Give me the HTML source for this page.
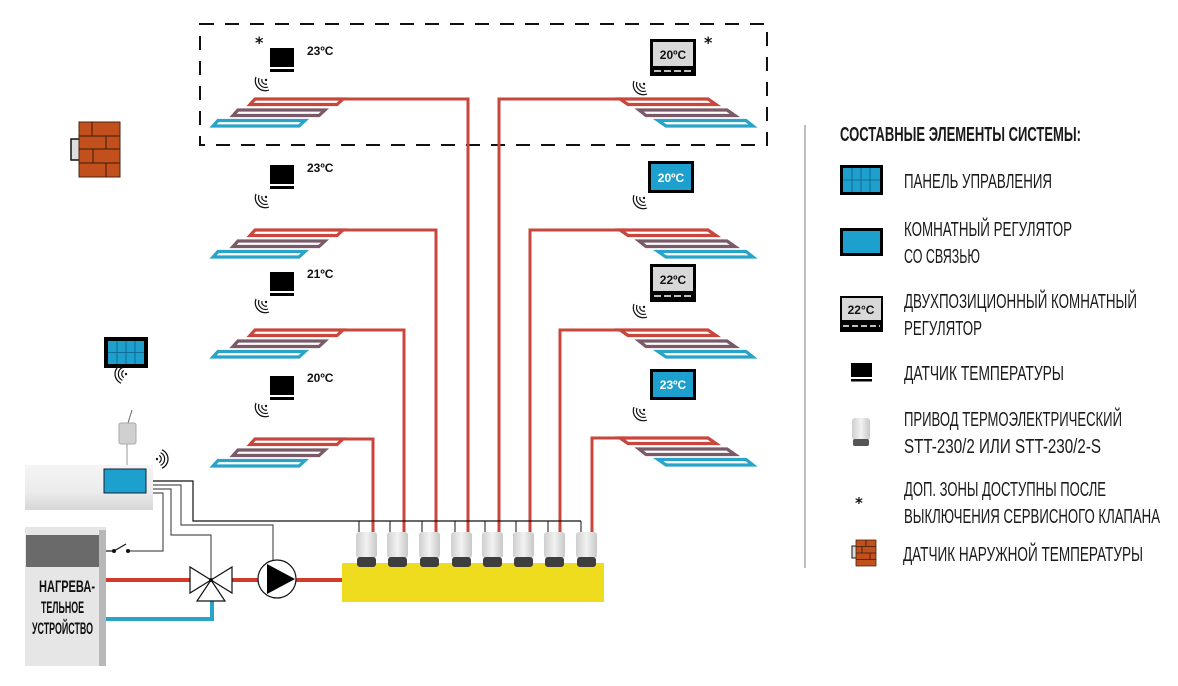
<!DOCTYPE html>
<html><head><meta charset="utf-8"><style>
html,body{margin:0;padding:0;background:#fff;}
svg{display:block;}
.t{font-family:"Liberation Sans","DejaVu Sans",sans-serif;font-weight:bold;font-size:12px;fill:#111;}
.lg{font-family:"Liberation Sans","DejaVu Sans",sans-serif;font-size:20px;fill:#1a1a1a;}
.w{fill:none;stroke:#111;stroke-width:1.2;}
</style></head><body>
<svg width="1178" height="686" viewBox="0 0 1178 686" xmlns="http://www.w3.org/2000/svg">
<defs>
<g id="wifi">
 <circle cx="0" cy="0" r="1.2" fill="#111"/>
 <path class="w" d="M-4,-1 A4,4 0 0 0 1,4"/>
 <path class="w" d="M-7,-2 A7,7 0 0 0 2,7"/>
 <path class="w" d="M-10,-3 A10,10 0 0 0 3,10"/>
</g>
<g id="lloop">
 <polygon points="255,99 343,99 337,104.5 250,104.5" fill="#fff" stroke="#c8463c" stroke-width="3.2"/>
 <polygon points="238,110 325,110 319,115.5 233,115.5" fill="#fff" stroke="#7a5a68" stroke-width="3.2"/>
 <polygon points="218,120.5 305,120.5 299,126 213,126" fill="#fff" stroke="#2aa3c8" stroke-width="3.2"/>
</g>
<g id="rloop">
 <polygon points="620,99 708,99 716,104.5 628,104.5" fill="#fff" stroke="#c8463c" stroke-width="3.2"/>
 <polygon points="639,110 727,110 735,115.5 646,115.5" fill="#fff" stroke="#7a5a68" stroke-width="3.2"/>
 <polygon points="658,120.5 746,120.5 753,126 666,126" fill="#fff" stroke="#2aa3c8" stroke-width="3.2"/>
</g>
<g id="sens"><rect x="270" y="48" width="24" height="19" fill="#000"/><rect x="270" y="69" width="24" height="3" fill="#000"/></g>
<linearGradient id="act" x1="0" x2="1"><stop offset="0" stop-color="#cfcfcf"/><stop offset="0.5" stop-color="#f2f2f2"/><stop offset="1" stop-color="#c8c8c8"/></linearGradient>
<linearGradient id="box" x1="0" y1="0" x2="0" y2="1"><stop offset="0" stop-color="#f4f4f4"/><stop offset="0.6" stop-color="#ececec"/><stop offset="1" stop-color="#d6d6d6"/></linearGradient>
</defs>

<rect x="200" y="24" width="567" height="121" fill="none" stroke="#111" stroke-width="2" stroke-dasharray="14,11"/>

<g fill="none" stroke="#c8463c" stroke-width="3">
 <polyline points="255,99 468,99 468,532"/>
 <polyline points="255,230 436,230 436,532"/>
 <polyline points="255,330 404,330 404,532"/>
 <polyline points="255,439 373,439 373,532"/>
 <polyline points="708,99 499,99 499,532"/>
 <polyline points="708,230 530,230 530,532"/>
 <polyline points="708,330 560,330 560,532"/>
 <polyline points="708,438 592,438 592,532"/>
</g>
<use href="#lloop"/>
<use href="#lloop" transform="translate(0,131)"/>
<use href="#lloop" transform="translate(0,231)"/>
<use href="#lloop" transform="translate(0,340)"/>
<use href="#rloop"/>
<use href="#rloop" transform="translate(0,131)"/>
<use href="#rloop" transform="translate(0,231)"/>
<use href="#rloop" transform="translate(0,339)"/>

<use href="#sens"/><text class="t" x="307" y="55">23ºC</text>
<text x="255" y="48" font-family="DejaVu Sans" font-size="16" font-weight="bold" fill="#111">*</text>
<use href="#wifi" transform="translate(266,80)"/>
<use href="#sens" transform="translate(0,117)"/><text class="t" x="307" y="172">23ºC</text>
<use href="#wifi" transform="translate(266,197)"/>
<use href="#sens" transform="translate(0,224)"/><text class="t" x="307" y="278">21ºC</text>
<use href="#wifi" transform="translate(266,302)"/>
<use href="#sens" transform="translate(0,328)"/><text class="t" x="307" y="382">20ºC</text>
<use href="#wifi" transform="translate(266,406)"/>

<rect x="650" y="39" width="46" height="37" fill="#000"/><rect x="653" y="42" width="40" height="24" fill="#d8d8d8"/>
<line x1="654" y1="71" x2="693" y2="71" stroke="#fff" stroke-width="1.5" stroke-dasharray="7,3"/>
<text class="t" x="673" y="59" text-anchor="middle">20ºC</text>
<text x="704" y="48" font-family="DejaVu Sans" font-size="16" font-weight="bold" fill="#111">*</text>
<use href="#wifi" transform="translate(644,84)"/>

<rect x="648" y="161" width="46" height="32" fill="#000"/><rect x="651" y="164" width="40" height="26" fill="#1ea0cf"/>
<text class="t" x="671" y="182" text-anchor="middle" style="fill:#fff">20ºC</text>
<use href="#wifi" transform="translate(644,198)"/>

<rect x="650" y="264" width="46" height="38" fill="#000"/><rect x="653" y="267" width="40" height="24" fill="#d8d8d8"/>
<line x1="654" y1="296" x2="693" y2="296" stroke="#fff" stroke-width="1.5" stroke-dasharray="7,3"/>
<text class="t" x="673" y="284" text-anchor="middle">22ºC</text>
<use href="#wifi" transform="translate(644,307)"/>

<rect x="650" y="369" width="46" height="31" fill="#000"/><rect x="653" y="372" width="40" height="25" fill="#1ea0cf"/>
<text class="t" x="673" y="389" text-anchor="middle" style="fill:#fff">23ºC</text>
<use href="#wifi" transform="translate(644,410)"/>

<rect x="71" y="139" width="9" height="21" fill="#ddd" stroke="#111" stroke-width="1.5"/>
<rect x="79" y="122" width="41" height="55" fill="#c2501c" stroke="#4a2410" stroke-width="1"/>
<g stroke="#3a1a0a" stroke-width="1">
 <line x1="79" y1="136" x2="120" y2="136"/><line x1="79" y1="149" x2="120" y2="149"/><line x1="79" y1="163" x2="120" y2="163"/>
 <line x1="92" y1="122" x2="92" y2="136"/><line x1="106" y1="136" x2="106" y2="149"/><line x1="93" y1="149" x2="93" y2="163"/><line x1="106" y1="163" x2="106" y2="177"/>
</g>

<rect x="104" y="337" width="44" height="31" fill="#000"/>
<rect x="108" y="341" width="36" height="23" fill="#1ea0cf"/>
<g stroke="#0b5f80" stroke-width="0.8"><line x1="117" y1="341" x2="117" y2="364"/><line x1="126" y1="341" x2="126" y2="364"/><line x1="135" y1="341" x2="135" y2="364"/><line x1="108" y1="352.5" x2="144" y2="352.5"/></g>
<g transform="translate(126,374) rotate(45)"><use href="#wifi"/></g>

<line x1="127" y1="444" x2="127" y2="465" stroke="#999" stroke-width="1"/>
<line x1="128" y1="423" x2="132" y2="410" stroke="#666" stroke-width="1"/>
<rect x="119" y="423" width="17" height="21" rx="2" fill="#d0d0d0" stroke="#aaa"/>
<rect x="25" y="465" width="128" height="45" fill="url(#box)"/>
<rect x="104" y="469" width="42" height="24" fill="#1ea0cf" stroke="#123" stroke-width="1"/>
<g transform="translate(157,459) rotate(-135)"><use href="#wifi"/></g>

<g fill="none" stroke-width="1.2">
 <polyline points="153,481 193,481 193,521 581,521" stroke="#111"/>
 <polyline points="153,485 181,485 181,525 273,525 273,560" stroke="#555"/>
 <polyline points="153,489 171,489 171,535 211,535 211,580" stroke="#555"/>
 <polyline points="153,493 163,493 163,551 130,551" stroke="#555"/>
 <line x1="104" y1="551" x2="114" y2="551" stroke="#111"/>
 <line x1="114" y1="551" x2="126" y2="544" stroke="#111"/>
</g>
<circle cx="114" cy="551" r="2" fill="#111"/><circle cx="128" cy="551" r="2" fill="#111"/>
<g stroke="#111" stroke-width="1">
 <line x1="359" y1="521" x2="359" y2="532"/><line x1="390" y1="521" x2="390" y2="532"/><line x1="422" y1="521" x2="422" y2="532"/><line x1="455" y1="521" x2="455" y2="532"/><line x1="485" y1="521" x2="485" y2="532"/><line x1="516" y1="521" x2="516" y2="532"/><line x1="548" y1="521" x2="548" y2="532"/><line x1="581" y1="521" x2="581" y2="532"/>
</g>

<rect x="25" y="527" width="81" height="139" fill="#e6e6e6"/>
<rect x="99" y="530" width="7" height="136" fill="#b8b8b8"/>
<rect x="26" y="535" width="73" height="32" fill="#6a6a6a"/>
<g font-family="Liberation Sans, sans-serif" font-weight="bold" font-size="17" fill="#111">
 <text x="39" y="592" textLength="56" lengthAdjust="spacingAndGlyphs">НАГРЕВА-</text>
 <text x="41" y="613" textLength="43" lengthAdjust="spacingAndGlyphs">ТЕЛЬНОЕ</text>
 <text x="32" y="634" textLength="61" lengthAdjust="spacingAndGlyphs">УСТРОЙСТВО</text>
</g>

<line x1="106" y1="580" x2="190" y2="580" stroke="#d23a2a" stroke-width="4"/>
<line x1="232" y1="580" x2="258" y2="580" stroke="#d23a2a" stroke-width="4"/>
<line x1="296" y1="580" x2="342" y2="580" stroke="#d23a2a" stroke-width="4"/>
<polyline points="106,619 212,619 212,601" fill="none" stroke="#2aa3c8" stroke-width="4"/>
<g fill="#fff" stroke="#111" stroke-width="1.2">
 <polygon points="190,567 190,593 211,580"/><polygon points="232,567 232,593 211,580"/><polygon points="211,580 197,601 225,601"/>
 <circle cx="277" cy="579" r="19"/>
</g>
<circle cx="211" cy="580" r="2" fill="#111"/>
<polygon points="267,564 267,594 295,579" fill="#000"/>

<rect x="342" y="563" width="262" height="39" fill="#f0dc1e"/>
<g>
 <g id="a1"><rect x="356" y="532" width="21" height="26" rx="3" fill="url(#act)"/><rect x="357" y="557" width="19" height="10" rx="3" fill="#3e3e3e"/></g>
 <use href="#a1" transform="translate(31,0)"/><use href="#a1" transform="translate(63,0)"/><use href="#a1" transform="translate(95,0)"/>
 <use href="#a1" transform="translate(126,0)"/><use href="#a1" transform="translate(157,0)"/><use href="#a1" transform="translate(188,0)"/><use href="#a1" transform="translate(220,0)"/>
</g>

<line x1="805" y1="125" x2="805" y2="568" stroke="#aaa" stroke-width="1.5"/>
<text class="lg" x="840" y="141" font-weight="bold" textLength="241" lengthAdjust="spacingAndGlyphs">СОСТАВНЫЕ ЭЛЕМЕНТЫ СИСТЕМЫ:</text>

<rect x="840" y="165" width="43" height="30" fill="#000"/><rect x="843" y="168" width="37" height="24" fill="#1ea0cf"/>
<g stroke="#0b5f80" stroke-width="0.8"><line x1="852" y1="168" x2="852" y2="192"/><line x1="861" y1="168" x2="861" y2="192"/><line x1="870" y1="168" x2="870" y2="192"/><line x1="843" y1="180" x2="880" y2="180"/></g>
<text class="lg" x="904" y="188" textLength="148" lengthAdjust="spacingAndGlyphs">ПАНЕЛЬ УПРАВЛЕНИЯ</text>

<rect x="840" y="228" width="43" height="28" fill="#000"/><rect x="843" y="231" width="37" height="22" fill="#1ea0cf"/>
<text class="lg" x="904" y="236" textLength="168" lengthAdjust="spacingAndGlyphs">КОМНАТНЫЙ РЕГУЛЯТОР</text>
<text class="lg" x="904" y="263" textLength="76" lengthAdjust="spacingAndGlyphs">СО СВЯЗЬЮ</text>

<rect x="840" y="296" width="43" height="36" fill="#000"/><rect x="842" y="298" width="39" height="22" fill="#d8d8d8"/>
<line x1="843" y1="326" x2="880" y2="326" stroke="#fff" stroke-width="1.5" stroke-dasharray="6,3"/>
<text class="t" x="861" y="314" text-anchor="middle">22°C</text>
<text class="lg" x="904" y="308" textLength="233" lengthAdjust="spacingAndGlyphs">ДВУХПОЗИЦИОННЫЙ КОМНАТНЫЙ</text>
<text class="lg" x="904" y="335" textLength="78" lengthAdjust="spacingAndGlyphs">РЕГУЛЯТОР</text>

<rect x="851" y="363" width="21" height="14" fill="#000"/><rect x="851" y="379" width="21" height="2.5" fill="#000"/>
<text class="lg" x="904" y="380" textLength="160" lengthAdjust="spacingAndGlyphs">ДАТЧИК ТЕМПЕРАТУРЫ</text>

<rect x="852" y="418" width="18" height="22" rx="3" fill="url(#act)"/><rect x="853" y="439" width="16" height="7" rx="2" fill="#555"/>
<text class="lg" x="904" y="426" textLength="218" lengthAdjust="spacingAndGlyphs">ПРИВОД ТЕРМОЭЛЕКТРИЧЕСКИЙ</text>
<text class="lg" x="904" y="453" textLength="197" lengthAdjust="spacingAndGlyphs">STT-230/2 ИЛИ STT-230/2-S</text>

<text x="855" y="508" font-family="DejaVu Sans" font-size="15" font-weight="bold" fill="#111">*</text>
<text class="lg" x="904" y="496" textLength="202" lengthAdjust="spacingAndGlyphs">ДОП. ЗОНЫ ДОСТУПНЫ ПОСЛЕ</text>
<text class="lg" x="904" y="523" textLength="256" lengthAdjust="spacingAndGlyphs">ВЫКЛЮЧЕНИЯ СЕРВИСНОГО КЛАПАНА</text>

<rect x="852" y="546" width="5" height="12" fill="#ddd" stroke="#111" stroke-width="1"/>
<rect x="856" y="540" width="20" height="26" fill="#c2501c" stroke="#4a2410" stroke-width="0.8"/>
<g stroke="#3a1a0a" stroke-width="0.8"><line x1="856" y1="546.5" x2="876" y2="546.5"/><line x1="856" y1="553" x2="876" y2="553"/><line x1="856" y1="559.5" x2="876" y2="559.5"/><line x1="866" y1="540" x2="866" y2="546.5"/><line x1="862" y1="546.5" x2="862" y2="553"/><line x1="870" y1="553" x2="870" y2="559.5"/></g>
<text class="lg" x="903" y="561" textLength="240" lengthAdjust="spacingAndGlyphs">ДАТЧИК НАРУЖНОЙ ТЕМПЕРАТУРЫ</text>
</svg>
</body></html>
